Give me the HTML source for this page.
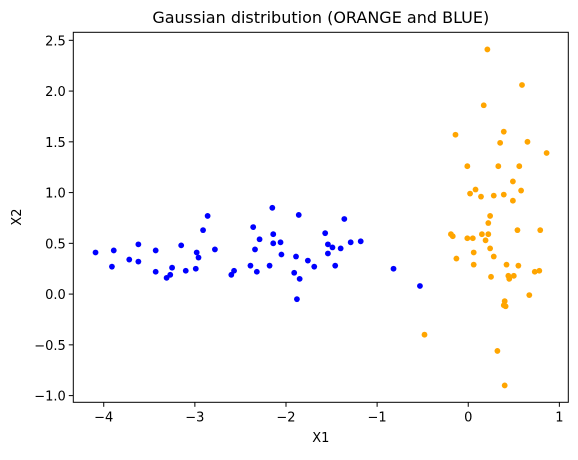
<!DOCTYPE html>
<html><head><meta charset="utf-8"><style>
body{margin:0;background:#fff;}
svg text{font-family:"DejaVu Sans","Liberation Sans",sans-serif;fill:#000;}
</style></head><body>
<svg id="chart" width="578" height="455" xmlns="http://www.w3.org/2000/svg">
<rect width="578" height="455" fill="#fff"/>
<text x="320.8" y="23" font-size="16" text-anchor="middle">Gaussian distribution (ORANGE and BLUE)</text>
<g id="marks"></g>
<g id="axes"></g>
<text x="320.8" y="442" font-size="13" text-anchor="middle">X1</text>
<text transform="translate(21,217) rotate(-90)" font-size="13" text-anchor="middle">X2</text>
</svg>
<script>
const blueX=[-4.09,-3.89,-3.91,-3.72,-3.62,-3.62,-3.43,-3.43,-3.31,-3.27,-3.25,-3.15,-3.10,-2.99,-2.98,-2.96,-2.91,-2.86,-2.78,-2.60,-2.57,-2.39,-2.36,-2.34,-2.32,-2.29,-2.18,-2.15,-2.14,-2.14,-2.06,-2.05,-1.91,-1.89,-1.88,-1.86,-1.85,-1.76,-1.69,-1.57,-1.54,-1.54,-1.49,-1.46,-1.40,-1.36,-1.29,-1.18,-0.82,-0.53];
const blueY=[0.41,0.43,0.27,0.34,0.49,0.32,0.43,0.22,0.16,0.19,0.26,0.48,0.23,0.25,0.41,0.36,0.63,0.77,0.44,0.19,0.23,0.28,0.66,0.44,0.22,0.54,0.28,0.85,0.59,0.50,0.51,0.39,0.21,0.37,-0.05,0.78,0.15,0.33,0.27,0.60,0.49,0.40,0.46,0.28,0.45,0.74,0.51,0.52,0.25,0.08];
const orangeX=[0.21,0.59,0.17,-0.14,0.39,0.35,0.65,0.86,-0.01,0.33,0.56,0.49,0.08,0.02,0.14,0.28,0.39,0.58,0.49,0.24,0.22,-0.19,-0.17,-0.01,0.05,0.15,0.22,0.19,0.54,0.79,0.06,0.24,-0.13,0.28,0.06,0.42,0.55,0.73,0.78,0.25,0.44,0.50,0.45,0.67,0.40,0.39,0.41,-0.48,0.32,0.40];
const orangeY=[2.41,2.06,1.86,1.57,1.60,1.49,1.50,1.39,1.26,1.26,1.26,1.11,1.03,0.99,0.96,0.97,0.98,1.02,0.92,0.77,0.70,0.59,0.57,0.55,0.55,0.59,0.59,0.53,0.63,0.63,0.41,0.45,0.35,0.37,0.29,0.29,0.28,0.22,0.23,0.17,0.18,0.18,0.15,-0.01,-0.07,-0.11,-0.12,-0.40,-0.56,-0.90];
const xTicks=[-4,-3,-2,-1,0,1];
const xTickLabels=["\u22124","\u22123","\u22122","\u22121","0","1"];
const yTicks=[-1,-0.5,0,0.5,1,1.5,2,2.5];
const yTickLabels=["\u22121.0","\u22120.5","0.0","0.5","1.0","1.5","2.0","2.5"];

const L=73.3,R=568.3,T=32.3,B=402.3;
const X0=-4.334,X1=1.098,Y0=-1.066,Y1=2.579;
const sx=v=>L+(v-X0)/(X1-X0)*(R-L);
const sy=v=>B-(v-Y0)/(Y1-Y0)*(B-T);
const NS="http://www.w3.org/2000/svg";
const marks=document.getElementById('marks'), axes=document.getElementById('axes');
function mk(tag,attrs,parent){const e=document.createElementNS(NS,tag);for(const k in attrs)e.setAttribute(k,attrs[k]);parent.appendChild(e);return e;}
blueX.forEach((x,i)=>{const c=mk('circle',{cx:sx(x),cy:sy(blueY[i]),r:2.9,fill:'#0000ff'},marks);

});
orangeX.forEach((x,i)=>{const c=mk('circle',{cx:sx(x),cy:sy(orangeY[i]),r:2.9,fill:'#ffa500'},marks);

});
const frame=mk('rect',{x:L,y:T,width:R-L,height:B-T,fill:'none',stroke:'#000','stroke-width':1},axes);


xTicks.forEach((t,i)=>{const x=sx(t);
const ln=mk('line',{x1:x,x2:x,y1:B,y2:B+4.5,stroke:'#000','stroke-width':1},axes);


const tx=mk('text',{x:x,y:B+19,'font-size':13,'text-anchor':'middle'},axes);tx.textContent=xTickLabels[i];

});
yTicks.forEach((t,i)=>{const y=sy(t);
const ln=mk('line',{x1:L-4.5,x2:L,y1:y,y2:y,stroke:'#000','stroke-width':1},axes);


const tx=mk('text',{x:L-7.5,y:y+5,'font-size':13,'text-anchor':'end'},axes);tx.textContent=yTickLabels[i];

});
</script>
</body></html>
